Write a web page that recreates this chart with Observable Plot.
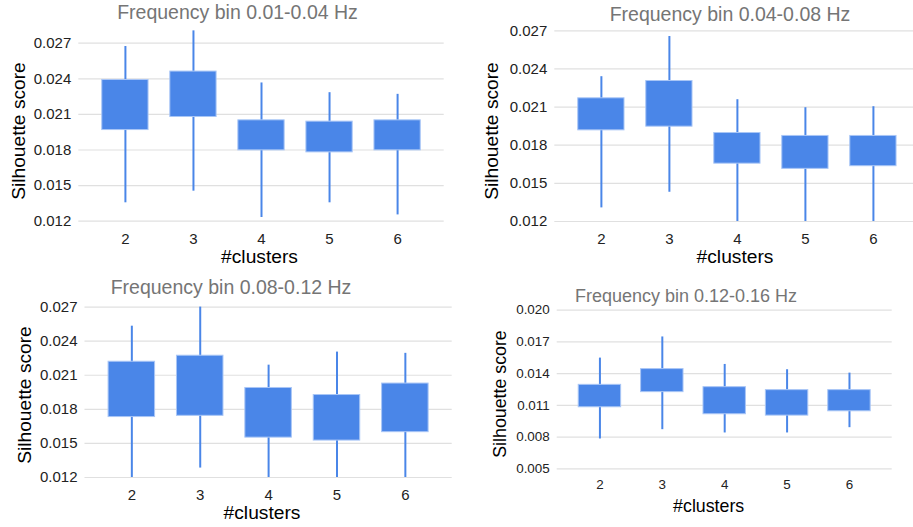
<!DOCTYPE html>
<html><head><meta charset="utf-8">
<script src="https://cdn.jsdelivr.net/npm/d3@7"></script>
<script src="https://cdn.jsdelivr.net/npm/@observablehq/plot@0.6"></script>
<style>
body{margin:0;background:#fff;font-family:Arial,"Liberation Sans",sans-serif;}
#root{position:relative;width:913px;height:527px;overflow:hidden;background:#fff;}
.p{position:absolute;}
.t{position:absolute;white-space:nowrap;line-height:1;transform:translate(-50%,-50%);font-family:Arial,"Liberation Sans",sans-serif;}
.r{transform:translate(-50%,-50%) rotate(-90deg);}
</style></head><body><div id="root"></div>
<script>
// ---- data ----
const clusters = [2, 3, 4, 5, 6];
const xLabel = "#clusters";
const yLabel = "Silhouette score";

const titles = ["Frequency bin 0.01-0.04 Hz", "Frequency bin 0.04-0.08 Hz", "Frequency bin 0.08-0.12 Hz", "Frequency bin 0.12-0.16 Hz"];

const ticksA = [0.012, 0.015, 0.018, 0.021, 0.024, 0.027];
const ticksB = [0.005, 0.008, 0.011, 0.014, 0.017, 0.020];

// panel 1: 0.01-0.04 Hz
const low1  = [0.01355, 0.01453, 0.01231, 0.01355, 0.01253];
const q1_1  = [0.01968, 0.02078, 0.01797, 0.01780, 0.01797];
const q3_1  = [0.02390, 0.02461, 0.02050, 0.02039, 0.02050];
const high1 = [0.02672, 0.02804, 0.02365, 0.02283, 0.02269];
// panel 2: 0.04-0.08 Hz
const low2  = [0.01307, 0.01430, 0.01200, 0.01200, 0.01200];
const q1_2  = [0.01917, 0.01946, 0.01655, 0.01614, 0.01635];
const q3_2  = [0.02169, 0.02305, 0.01896, 0.01873, 0.01873];
const high2 = [0.02339, 0.02655, 0.02158, 0.02095, 0.02103];
// panel 3: 0.08-0.12 Hz
const low3  = [0.01200, 0.01283, 0.01200, 0.01200, 0.01200];
const q1_3  = [0.01732, 0.01743, 0.01551, 0.01525, 0.01599];
const q3_3  = [0.02219, 0.02272, 0.01988, 0.01926, 0.02027];
const high3 = [0.02532, 0.02700, 0.02189, 0.02304, 0.02293];
// panel 4: 0.12-0.16 Hz
const low4  = [0.00782, 0.00870, 0.00839, 0.00839, 0.00889];
const q1_4  = [0.01082, 0.01225, 0.01016, 0.01003, 0.01044];
const q3_4  = [0.01294, 0.01443, 0.01272, 0.01244, 0.01244];
const high4 = [0.01547, 0.01747, 0.01487, 0.01437, 0.01405];

// ---- layout ----
const BLUE = "#4a86e8";
const panels = [
  {title: titles[0], low: low1, q1: q1_1, q3: q3_1, high: high1, ticks: ticksA,
   left: 0, top: 0, w: 460, h: 265, ml: 78.3, mr: 16.3, mt: 42.7, mb: 44.3,
   fs: 15, xpad: 12, titleFs: 19.5, tx: 237.5, ty: 12.5, axFs: 19.2, yx: 18.7, yy: 131, xx: 259.5, xy: 256.7},
  {title: titles[1], low: low2, q1: q1_2, q3: q3_2, high: high2, ticks: ticksA,
   left: 460, top: 0, w: 470, h: 265, ml: 94.3, mr: 10.5, mt: 30.3, mb: 44,
   fs: 15, xpad: 12, titleFs: 19.5, tx: 730, ty: 14.7, axFs: 19.2, yx: 491.7, yy: 131, xx: 735, xy: 256.7},
  {title: titles[2], low: low3, q1: q1_3, q3: q3_3, high: high3, ticks: ticksA,
   left: 0, top: 265, w: 460, h: 262, ml: 84.5, mr: 8.3, mt: 41.6, mb: 50,
   fs: 15, xpad: 12, titleFs: 19.5, tx: 231, ty: 288, axFs: 19.2, yx: 24.5, yy: 394.7, xx: 262, xy: 513.3},
  {title: titles[3], low: low4, q1: q1_4, q3: q3_4, high: high4, ticks: ticksB,
   left: 460, top: 265, w: 453, h: 262, ml: 96.7, mr: 21.3, mt: 44.7, mb: 58.7,
   fs: 13.4, xpad: 10.7, titleFs: 18, tx: 686, ty: 295.5, axFs: 17.8, yx: 501.3, yy: 393.8, xx: 708.7, xy: 506.7}
];

const root = document.getElementById("root");
function addText(txt, x, y, fs, color, rot) {
  const d = document.createElement("div");
  d.className = "t" + (rot ? " r" : "");
  d.textContent = txt;
  d.style.left = x + "px";
  d.style.top = y + "px";
  d.style.fontSize = fs + "px";
  d.style.color = color;
  root.appendChild(d);
}

for (const p of panels) {
  const rows = clusters.map((k, i) => ({k: String(k), low: p.low[i], q1: p.q1[i], q3: p.q3[i], high: p.high[i]}));
  const svg = Plot.plot({
    width: p.w, height: p.h,
    marginLeft: p.ml, marginRight: p.mr, marginTop: p.mt, marginBottom: p.mb,
    style: {fontFamily: "Arial, 'Liberation Sans', sans-serif", fontSize: p.fs + "px", color: "#222", background: "transparent", overflow: "visible"},
    x: {type: "band", domain: clusters.map(String), paddingInner: 0.32, paddingOuter: 0.345, round: false,
        label: null, tickSize: 0, tickPadding: p.xpad},
    y: {domain: [p.ticks[0], p.ticks[p.ticks.length - 1]], ticks: p.ticks, tickFormat: d3.format(".3f"),
        tickSize: 0, tickPadding: 7.5, label: null},
    marks: [
      Plot.ruleY(p.ticks, {stroke: "#e0e0e0", strokeWidth: 1.2}),
      Plot.ruleX(rows, {x: "k", y1: "low", y2: "high", stroke: BLUE, strokeWidth: 2}),
      Plot.barY(rows, {x: "k", y1: "q1", y2: "q3", fill: BLUE, stroke: "#a9c6f6", strokeWidth: 1})
    ]
  });
  svg.classList.add("p");
  svg.style.left = p.left + "px";
  svg.style.top = p.top + "px";
  root.appendChild(svg);
  addText(p.title, p.tx, p.ty, p.titleFs, "#757575", false);
  addText(yLabel, p.yx, p.yy, p.axFs, "#000", true);
  addText(xLabel, p.xx, p.xy, p.axFs, "#000", false);
}
</script></body></html>
